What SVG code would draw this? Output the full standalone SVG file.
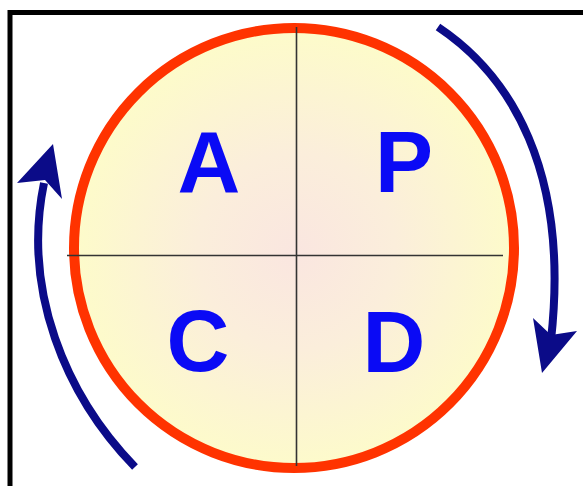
<svg xmlns="http://www.w3.org/2000/svg" width="583" height="486" viewBox="0 0 583 486">
<defs>
<radialGradient id="fillg" cx="296" cy="252" r="220" gradientUnits="userSpaceOnUse">
<stop offset="0" stop-color="#fae6e0"/>
<stop offset="0.45" stop-color="#fbeedb"/>
<stop offset="1" stop-color="#fdfbca"/>
</radialGradient>
<style>
.lbl{font-family:"Liberation Sans",Arial,sans-serif;font-weight:bold;font-size:87px;fill:#0a0af5;text-anchor:middle}
.arc{fill:none;stroke:#0b0b88;stroke-width:8;stroke-linecap:butt}
.head{fill:#0b0b88}
.div{stroke:#333;stroke-width:1.6}
</style>
</defs>
<rect x="0" y="0" width="583" height="486" fill="#fff"/>
<rect x="10" y="12.5" width="600" height="500" fill="none" stroke="#000" stroke-width="5"/>
<g id="circle">
<circle cx="294" cy="248" r="220" fill="url(#fillg)" stroke="#ff3300" stroke-width="10"/>
</g>
<g id="dividers">
<line class="div" x1="296.5" y1="27" x2="296.5" y2="466"/>
<line class="div" x1="67" y1="255.5" x2="503" y2="255.5"/>
</g>
<g id="connectors">
<path class="arc" d="M438,27 C510,75 570,170 551,340"/>
<polygon class="head" points="542,373 533,318 551,335 577,331"/>
<path class="arc" d="M135,467 C65,395 22,290 44,183"/>
<polygon class="head" points="53,144 62,199 45,180 17,183"/>
</g>
<g id="node-A"><text class="lbl" x="209" y="192">A</text></g>
<g id="node-P"><text class="lbl" x="404" y="192">P</text></g>
<g id="node-C"><text class="lbl" x="198" y="371">C</text></g>
<g id="node-D"><text class="lbl" x="394" y="372">D</text></g>
</svg>
